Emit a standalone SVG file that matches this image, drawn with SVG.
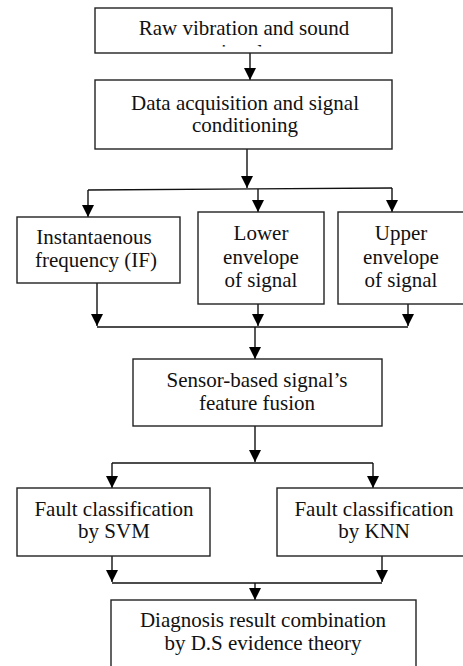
<svg xmlns="http://www.w3.org/2000/svg" width="463" height="666" viewBox="0 0 463 666">
<style>
.box{fill:#fff;stroke:#222;stroke-width:1.4}
.t{font-family:"Liberation Serif","Times New Roman",serif;font-size:21px;fill:#111;text-anchor:middle}
.c{fill:none;stroke:#111;stroke-width:1.4}
</style>
<defs>
<marker id="ah" markerUnits="userSpaceOnUse" markerWidth="12" markerHeight="14" viewBox="0 0 12 14" refX="12" refY="6" orient="auto">
<path d="M0,0 L12,6 L0,12 Z" fill="#000"/>
</marker>
<clipPath id="clip1"><rect x="95" y="8" width="297" height="38.5"/></clipPath>
</defs>
<rect width="463" height="666" fill="#fff"/>
<g id="connectors">
<path class="c" d="M250,53 V80" marker-end="url(#ah)"/>
<path class="c" d="M247,149 V188"  marker-end="url(#ah)"/>
<path class="c" d="M88,190 L392,188"/>
<path class="c" d="M88,190 V217" marker-end="url(#ah)"/>
<path class="c" d="M258,189 V212" marker-end="url(#ah)"/>
<path class="c" d="M392,188 V212" marker-end="url(#ah)"/>
<path class="c" d="M97,283 V326" marker-end="url(#ah)"/>
<path class="c" d="M258,304 V326" marker-end="url(#ah)"/>
<path class="c" d="M408,304 V326" marker-end="url(#ah)"/>
<path class="c" d="M97,327 H408"/>
<path class="c" d="M255,327 V359" marker-end="url(#ah)"/>
<path class="c" d="M255,426 V462" marker-end="url(#ah)"/>
<path class="c" d="M112,463 H373"/>
<path class="c" d="M112,463 V488" marker-end="url(#ah)"/>
<path class="c" d="M373,463 V488" marker-end="url(#ah)"/>
<path class="c" d="M112,556 V582" marker-end="url(#ah)"/>
<path class="c" d="M382,556 V582" marker-end="url(#ah)"/>
<path class="c" d="M112,583 H382"/>
<path class="c" d="M255,583 V600" marker-end="url(#ah)"/>
</g>
<g id="raw">
<rect class="box" x="95" y="8" width="297" height="45"/>
<g clip-path="url(#clip1)">
<text class="t" x="244" y="35">Raw vibration and sound</text>
<text class="t" x="242" y="59">signals</text>
</g>
</g>
<g id="daq">
<rect class="box" x="95" y="80" width="297" height="69"/>
<text class="t" x="245" y="110">Data acquisition and signal</text>
<text class="t" x="245" y="132">conditioning</text>
</g>
<g id="if">
<rect class="box" x="17" y="217" width="163" height="66"/>
<text class="t" x="94" y="244">Instantaenous</text>
<text class="t" x="96" y="267">frequency (IF)</text>
</g>
<g id="lower">
<rect class="box" x="198" y="212" width="126" height="92"/>
<text class="t" x="261" y="240">Lower</text>
<text class="t" x="261" y="264">envelope</text>
<text class="t" x="261" y="287">of signal</text>
</g>
<g id="upper">
<rect class="box" x="338" y="212" width="130" height="92"/>
<text class="t" x="401" y="240">Upper</text>
<text class="t" x="401" y="264">envelope</text>
<text class="t" x="401" y="287">of signal</text>
</g>
<g id="fusion">
<rect class="box" x="133" y="359" width="249" height="67"/>
<text class="t" x="257" y="387">Sensor-based signal’s</text>
<text class="t" x="257" y="410">feature fusion</text>
</g>
<g id="svm">
<rect class="box" x="17" y="488" width="193" height="68"/>
<text class="t" x="114" y="516">Fault classification</text>
<text class="t" x="114" y="538">by SVM</text>
</g>
<g id="knn">
<rect class="box" x="277" y="488" width="190" height="68"/>
<text class="t" x="374" y="516">Fault classification</text>
<text class="t" x="374" y="538">by KNN</text>
</g>
<g id="ds">
<rect class="box" x="111" y="600" width="305" height="70"/>
<text class="t" x="263" y="627">Diagnosis result combination</text>
<text class="t" x="263" y="650">by D.S evidence theory</text>
</g>
</svg>
